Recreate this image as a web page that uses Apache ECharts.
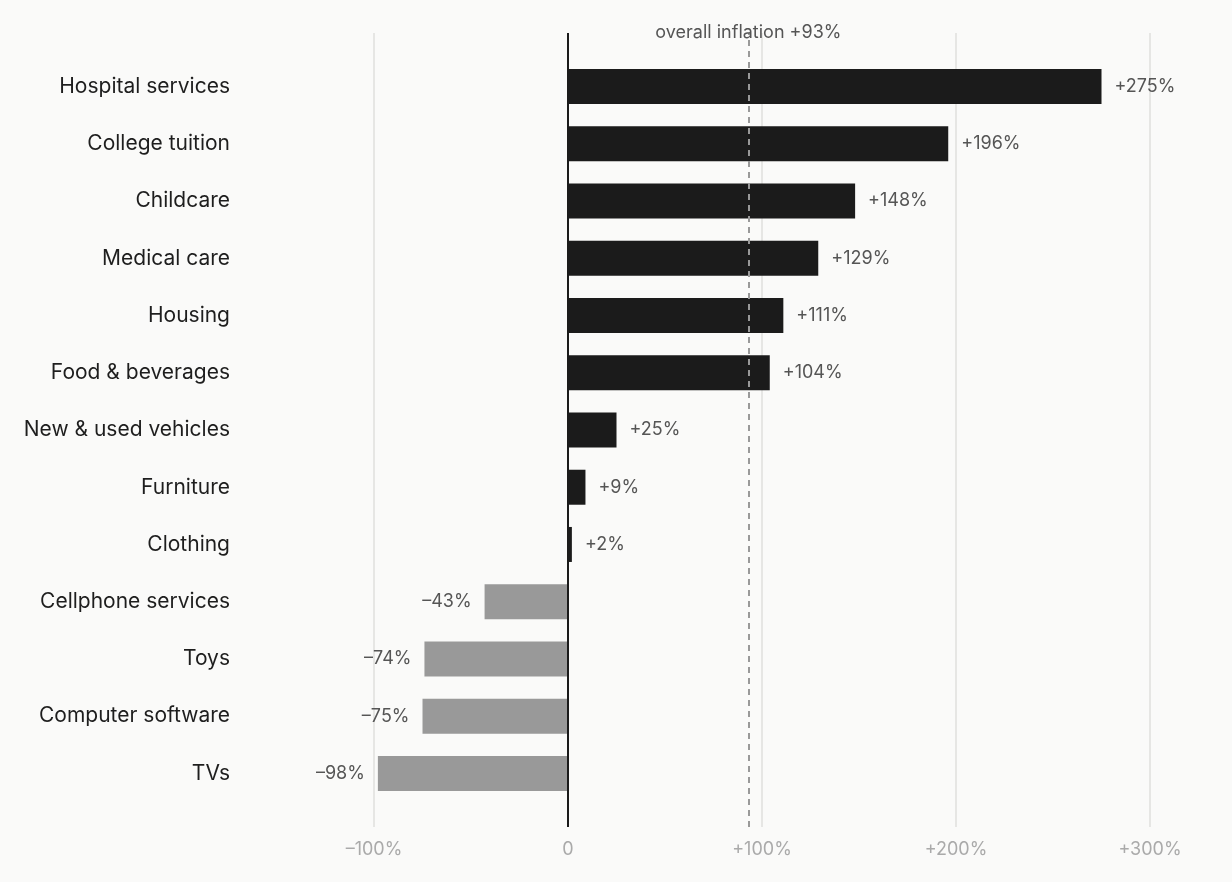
<!DOCTYPE html>
<html>
<head>
<meta charset="utf-8">
<script src="https://cdn.jsdelivr.net/npm/echarts@6/dist/echarts.min.js"></script>
<style>
	html, body { margin: 0; padding: 0; background: #fafaf9; }
	#chart { width: 1232px; height: 882px; }
</style>
</head>
<body>
<div id="chart"></div>
<script>
var categories = ["Hospital services", "College tuition", "Childcare", "Medical care", "Housing",
	"Food & beverages", "New & used vehicles", "Furniture", "Clothing", "Cellphone services",
	"Toys", "Computer software", "TVs"];
var values = [275, 196, 148, 129, 111, 104, 25, 9, 2, -43, -74, -75, -98];
var overall = 93;
var xTicks = [-100, 0, 100, 200, 300];

function fmt(v) {
	if (v === 0) return "0";
	return (v > 0 ? "+" : "–") + Math.abs(v) + "%";
}

var font = "Inter, 'Noto Sans', sans-serif";
var myChart = echarts.init(document.getElementById('chart'));

var barData = [];
for (var i = 0; i < values.length; i++) {
	var v = values[i];
	barData.push({
		value: v,
		itemStyle: { color: v >= 0 ? "#1b1b1b" : "#999999" },
		label: { position: v >= 0 ? "right" : "left" }
	});
}

var option = {
	backgroundColor: "#fafaf9",
	animation: false,
	textStyle: { fontFamily: font },
	grid: [
		{ left: 374, right: 82, top: 58, bottom: 80 },
		{ left: 374, right: 82, top: 33, bottom: 55 }
	],
	xAxis: [{
		gridIndex: 0,
		type: "value",
		min: xTicks[0],
		max: xTicks[xTicks.length - 1],
		interval: 100,
		axisLine: { show: false },
		axisTick: { show: false },
		axisLabel: { show: false },
		splitLine: { show: false }
	}, {
		gridIndex: 1,
		type: "value",
		min: xTicks[0],
		max: xTicks[xTicks.length - 1],
		interval: 100,
		axisLine: { show: false },
		axisTick: { show: false },
		axisLabel: {
			color: "#aaaaaa",
			fontSize: 18,
			margin: 14,
			fontFamily: font,
			formatter: fmt
		},
		splitLine: { show: true, lineStyle: { color: "#e6e6e4", width: 2 } }
	}],
	yAxis: [{
		gridIndex: 0,
		type: "category",
		data: categories,
		inverse: true,
		axisLine: { show: false },
		axisTick: { show: false },
		axisLabel: {
			color: "#1e1e1e",
			fontSize: 21,
			margin: 144,
			padding: [3, 0, 0, 0],
			fontFamily: font
		}
	}, {
		gridIndex: 1,
		type: "value",
		min: 0,
		max: 1,
		show: false
	}],
	series: [{
		type: "bar",
		xAxisIndex: 0,
		yAxisIndex: 0,
		data: barData,
		barWidth: 35,
		z: 3,
		label: {
			show: true,
			distance: 13,
			color: "#555555",
			fontSize: 18,
			fontFamily: font,
			formatter: function(p) { return fmt(p.value); }
		}
	}, {
		type: "scatter",
		xAxisIndex: 1,
		yAxisIndex: 1,
		data: [],
		z: 5,
		markLine: {
			silent: true,
			symbol: "none",
			animation: false,
			data: [{
				xAxis: 0,
				lineStyle: { color: "#1b1b1b", width: 2, type: "solid" },
				label: { show: false }
			}, {
				xAxis: overall,
				lineStyle: { color: "#999999", width: 2, type: [6, 5] },
				label: {
					show: true,
					position: "end",
					distance: -9,
					color: "#555555",
					fontSize: 18,
					fontFamily: font,
					formatter: "overall inflation " + fmt(overall)
				}
			}]
		}
	}]
};
myChart.setOption(option);
</script>
</body>
</html>
